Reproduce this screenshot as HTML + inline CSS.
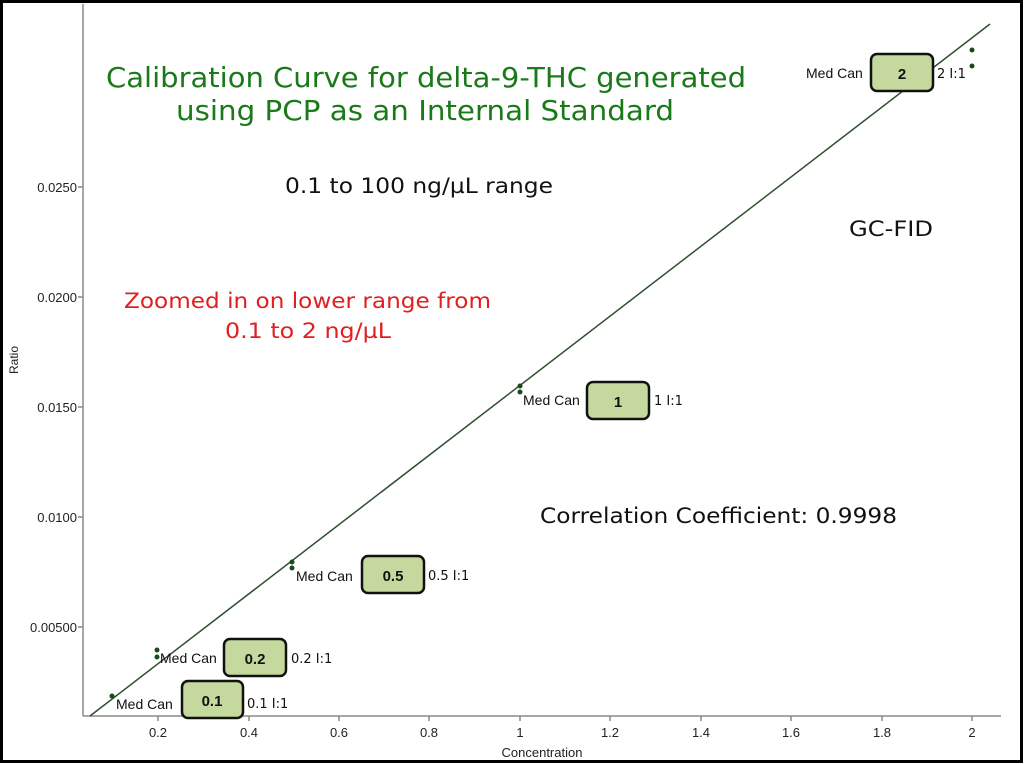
<!DOCTYPE html>
<html><head><style>
body{margin:0;background:#fff;}
svg{display:block;font-family:"Liberation Sans","DejaVu Sans",sans-serif;}
</style></head><body>
<svg width="1024" height="764" viewBox="0 0 1024 764">
<rect x="1.5" y="1.5" width="1020" height="760" fill="#fff" stroke="#000" stroke-width="3"/>
<g stroke="#888" stroke-width="1.5" fill="none">
<line x1="83" y1="4" x2="83" y2="716"/>
<line x1="83" y1="716" x2="1001" y2="716"/>
<line x1="78" y1="187" x2="83" y2="187"/><line x1="78" y1="297" x2="83" y2="297"/>
<line x1="78" y1="407" x2="83" y2="407"/><line x1="78" y1="517" x2="83" y2="517"/>
<line x1="78" y1="627" x2="83" y2="627"/>
<line x1="158" y1="716" x2="158" y2="721"/><line x1="249" y1="716" x2="249" y2="721"/>
<line x1="339" y1="716" x2="339" y2="721"/><line x1="429" y1="716" x2="429" y2="721"/>
<line x1="520" y1="716" x2="520" y2="721"/><line x1="610" y1="716" x2="610" y2="721"/>
<line x1="701" y1="716" x2="701" y2="721"/><line x1="791" y1="716" x2="791" y2="721"/>
<line x1="882" y1="716" x2="882" y2="721"/><line x1="972" y1="716" x2="972" y2="721"/>
</g>
<g font-size="13" fill="#222" text-anchor="end">
<text x="77" y="192">0.0250</text><text x="77" y="302">0.0200</text>
<text x="77" y="412">0.0150</text><text x="77" y="522">0.0100</text>
<text x="77" y="632">0.00500</text>
</g>
<g font-size="13" fill="#222" text-anchor="middle">
<text x="158" y="737">0.2</text><text x="249" y="737">0.4</text><text x="339" y="737">0.6</text>
<text x="429" y="737">0.8</text><text x="520" y="737">1</text><text x="610" y="737">1.2</text>
<text x="701" y="737">1.4</text><text x="791" y="737">1.6</text><text x="882" y="737">1.8</text>
<text x="972" y="737">2</text>
<text x="542" y="757">Concentration</text>
</g>
<text x="18" y="360" font-size="12" fill="#222" text-anchor="middle" transform="rotate(-90 18 360)">Ratio</text>
<line x1="90" y1="716" x2="990" y2="24" stroke="#2f4f2f" stroke-width="1.5"/>
<g fill="#1a4a1a">
<circle cx="112" cy="696" r="2.5"/><circle cx="157" cy="650" r="2.5"/><circle cx="157" cy="657" r="2.5"/>
<circle cx="292" cy="562" r="2.5"/><circle cx="292" cy="568" r="2.5"/>
<circle cx="520" cy="386" r="2.5"/><circle cx="520" cy="392" r="2.5"/>
<circle cx="972" cy="50" r="2.5"/><circle cx="972" cy="66" r="2.5"/>
</g>
<g fill="#c5d89e" stroke="#111" stroke-width="2.5">
<rect x="182" y="681" width="61" height="37" rx="6"/>
<rect x="224" y="639" width="62" height="37" rx="6"/>
<rect x="362" y="556" width="62" height="37" rx="6"/>
<rect x="587" y="382" width="62" height="37" rx="6"/>
<rect x="871" y="54" width="62" height="37" rx="6"/>
</g>
<g font-size="15" font-weight="bold" fill="#111" text-anchor="middle">
<text x="212" y="706">0.1</text><text x="255" y="664">0.2</text><text x="393" y="581">0.5</text>
<text x="618" y="407">1</text><text x="902" y="79">2</text>
</g>
<g font-size="14" fill="#111">
<text x="116" y="709">Med Can</text><text x="160" y="663">Med Can</text>
<text x="296" y="581">Med Can</text><text x="523" y="405">Med Can</text>
<text x="806" y="78">Med Can</text>
</g>
<g font-size="13" fill="#111" font-family="'DejaVu Sans',sans-serif">
<text x="247" y="708">0.1 I:1</text><text x="291" y="663">0.2 I:1</text>
<text x="428" y="580">0.5 I:1</text><text x="654" y="405">1 I:1</text>
<text x="937" y="78">2 I:1</text>
</g>
<g font-family="'DejaVu Sans',sans-serif">
<text x="106" y="87" font-size="28" fill="#1a7a1a" textLength="640" lengthAdjust="spacingAndGlyphs">Calibration Curve for delta-9-THC generated</text>
<text x="176" y="120" font-size="28" fill="#1a7a1a" textLength="498" lengthAdjust="spacingAndGlyphs">using PCP as an Internal Standard</text>
<text x="285" y="193" font-size="21" fill="#111" textLength="268" lengthAdjust="spacingAndGlyphs">0.1 to 100 ng/µL range</text>
<text x="849" y="236" font-size="21" fill="#111" textLength="84" lengthAdjust="spacingAndGlyphs">GC-FID</text>
<text x="124" y="308" font-size="21" fill="#e02020" textLength="367" lengthAdjust="spacingAndGlyphs">Zoomed in on lower range from</text>
<text x="225" y="338" font-size="21" fill="#e02020" textLength="166" lengthAdjust="spacingAndGlyphs">0.1 to 2 ng/µL</text>
<text x="540" y="523" font-size="21" fill="#111" textLength="357" lengthAdjust="spacingAndGlyphs">Correlation Coefficient: 0.9998</text>
</g>
</svg>
</body></html>
